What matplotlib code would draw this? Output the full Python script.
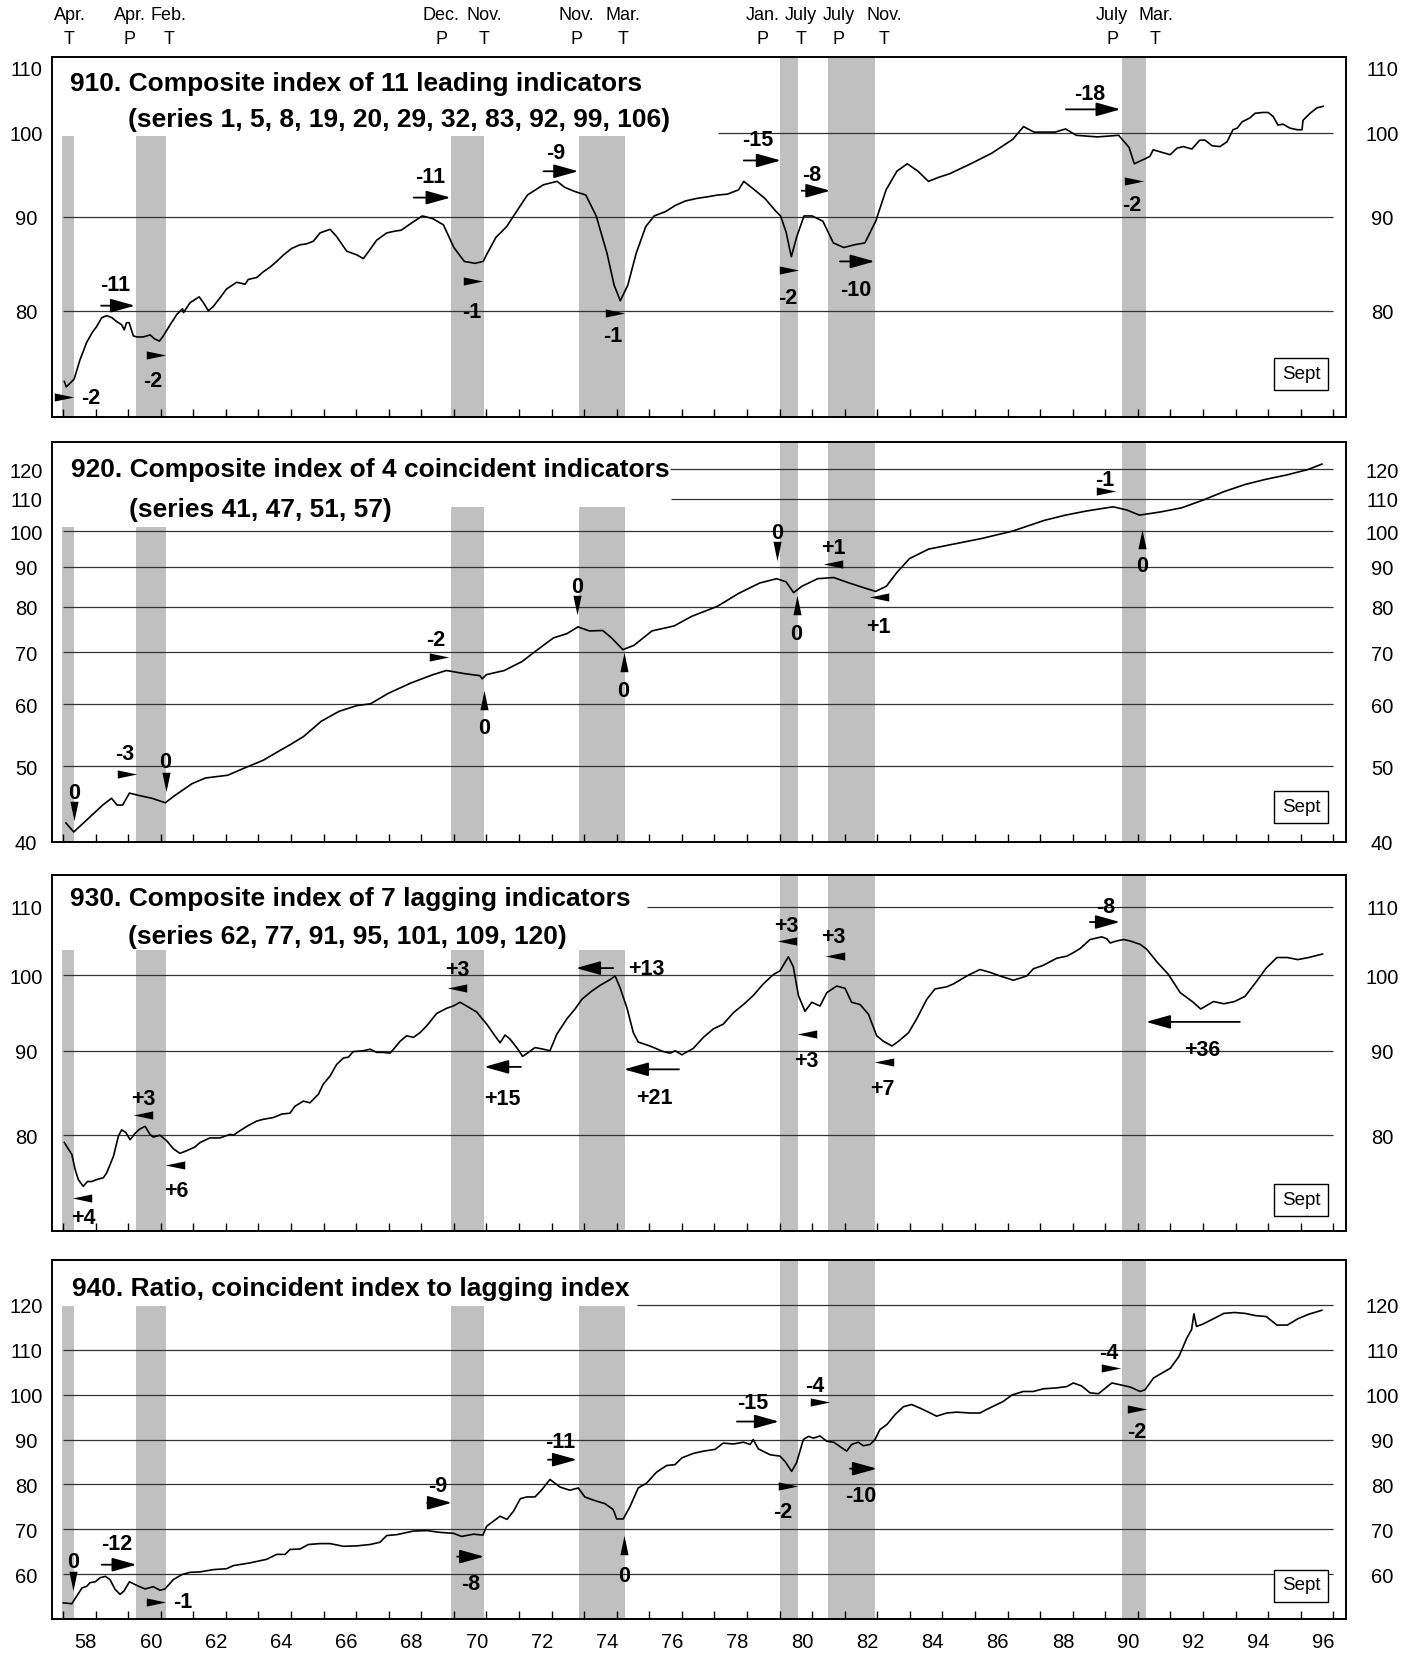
import matplotlib
matplotlib.use("Agg")
import matplotlib.pyplot as plt
from matplotlib import font_manager as fm
from matplotlib.ticker import NullLocator, FixedLocator
from matplotlib.transforms import blended_transform_factory, offset_copy


def pick_font(*names):
    for n in names:
        try:
            fm.findfont(n, fallback_to_default=False)
            return n
        except Exception:
            pass
    return "DejaVu Sans"


FONT = pick_font("Liberation Sans", "Arial", "Helvetica")
plt.rcParams["font.family"] = [FONT, "DejaVu Sans"]

# ---------------------------------------------------------------- data
# recession bars (decimal years)
rec_start = [1957.97, 1960.25, 1969.92, 1973.83, 1980.00, 1981.50, 1990.50]
rec_end = [1958.33, 1961.17, 1970.92, 1975.25, 1980.58, 1982.92, 1991.25]

top_months = ["Apr.", "Apr.", "Feb.", "Dec.", "Nov.", "Nov.", "Mar.", "Jan.", "July", "July", "Nov.", "July", "Mar."]
top_pt = ["T", "P", "T", "P", "T", "P", "T", "P", "T", "P", "T", "P", "T"]

year_labels = ["58", "60", "62", "64", "66", "68", "70", "72", "74", "76", "78",
               "80", "82", "84", "86", "88", "90", "92", "94", "96"]

# 910 leading index
lead_t = [1958.04, 1958.10, 1958.34, 1958.52, 1958.73, 1958.91, 1959.03, 1959.19, 1959.34, 1959.50,
          1959.65, 1959.80, 1959.88, 1959.95, 1960.03, 1960.16, 1960.27, 1960.47, 1960.67, 1960.82,
          1960.96, 1961.08, 1961.29, 1961.49, 1961.67, 1961.70, 1961.90, 1962.18, 1962.31, 1962.46,
          1962.61, 1962.82, 1963.02, 1963.33, 1963.59, 1963.69, 1963.95, 1964.15, 1964.36, 1964.56,
          1964.77, 1965.02, 1965.28, 1965.48, 1965.69, 1965.89, 1966.20, 1966.40, 1966.71, 1967.02,
          1967.22, 1967.43, 1967.63, 1967.94, 1968.19, 1968.38, 1968.70, 1969.03, 1969.35, 1969.68,
          1970.00, 1970.32, 1970.65, 1970.90, 1971.03, 1971.29, 1971.62, 1971.94, 1972.26, 1972.75,
          1973.17, 1973.40, 1973.72, 1974.05, 1974.37, 1974.70, 1974.92, 1975.11, 1975.34, 1975.60,
          1975.89, 1976.15, 1976.50, 1976.80, 1977.10, 1977.45, 1977.80, 1978.10, 1978.40, 1978.74,
          1978.90, 1979.23, 1979.55, 1979.87, 1980.03, 1980.20, 1980.36, 1980.52, 1980.75, 1981.00,
          1981.33, 1981.65, 1981.97, 1982.30, 1982.62, 1982.95, 1983.27, 1983.60, 1983.92, 1984.25,
          1984.57, 1984.90, 1985.22, 1985.87, 1986.52, 1987.16, 1987.49, 1987.81, 1988.46, 1988.78,
          1989.11, 1989.76, 1990.41, 1990.73, 1990.89, 1991.22, 1991.37, 1991.47, 1991.99, 1992.20,
          1992.39, 1992.66, 1992.90, 1993.06, 1993.28, 1993.52, 1993.74, 1993.92, 1994.05, 1994.20,
          1994.44, 1994.60, 1994.84, 1995.00, 1995.15, 1995.30, 1995.46, 1995.67, 1995.89, 1996.04,
          1996.07, 1996.29, 1996.50, 1996.69]
lead_v = [73.2, 72.7, 73.4, 75.2, 76.9, 77.9, 78.4, 79.3, 79.5, 79.3,
          78.9, 78.6, 78.1, 78.8, 78.8, 77.5, 77.4, 77.4, 77.6, 77.2,
          77.0, 77.5, 78.6, 79.6, 80.2, 79.8, 80.8, 81.4, 80.8, 80.0,
          80.4, 81.3, 82.2, 82.9, 82.7, 83.2, 83.4, 84.0, 84.5, 85.1,
          85.8, 86.5, 86.9, 87.0, 87.3, 88.2, 88.6, 87.8, 86.2, 85.8,
          85.4, 86.4, 87.4, 88.2, 88.4, 88.5, 89.3, 90.1, 89.8, 89.1,
          86.6, 85.1, 84.9, 85.1, 86.0, 87.7, 88.9, 90.7, 92.5, 93.7,
          94.1, 93.4, 92.9, 92.5, 90.1, 86.0, 82.6, 81.0, 82.6, 86.0,
          88.9, 90.1, 90.6, 91.3, 91.8, 92.1, 92.3, 92.5, 92.6, 93.1,
          94.1, 93.1, 92.1, 90.7, 90.1, 88.3, 85.6, 87.7, 90.1, 90.1,
          89.5, 87.1, 86.6, 86.9, 87.1, 89.5, 93.1, 95.3, 96.2, 95.3,
          94.1, 94.6, 95.0, 96.2, 97.5, 99.2, 100.8, 100.1, 100.1, 100.5,
          99.7, 99.5, 99.7, 98.2, 96.2, 96.8, 97.1, 97.9, 97.3, 98.1,
          98.3, 98.0, 99.1, 99.1, 98.4, 98.3, 98.9, 100.4, 100.6, 101.4,
          101.9, 102.5, 102.6, 102.6, 102.1, 101.0, 101.1, 100.6, 100.4, 100.4,
          101.6, 102.5, 103.2, 103.4]

# 920 coincident index
coin_t = [1958.09, 1958.33, 1958.60, 1958.94, 1959.22, 1959.49, 1959.66, 1959.83, 1960.04, 1960.31,
          1960.73, 1961.14, 1961.41, 1961.96, 1962.37, 1963.06, 1963.60, 1964.15, 1964.70, 1964.98,
          1965.39, 1965.93, 1966.48, 1967.03, 1967.44, 1967.99, 1968.68, 1969.36, 1969.77, 1970.32,
          1970.80, 1970.87, 1971.00, 1971.55, 1972.10, 1972.51, 1973.06, 1973.47, 1973.81, 1974.16,
          1974.57, 1974.84, 1975.19, 1975.53, 1976.08, 1976.76, 1977.31, 1978.09, 1978.74, 1979.39,
          1979.91, 1980.20, 1980.43, 1980.69, 1981.17, 1981.66, 1982.14, 1982.63, 1982.95, 1983.28,
          1983.60, 1983.99, 1984.57, 1985.22, 1986.19, 1987.16, 1988.13, 1988.78, 1989.43, 1990.24,
          1990.66, 1991.05, 1991.70, 1992.35, 1992.99, 1993.64, 1994.29, 1994.94, 1995.58, 1996.23,
          1996.65]
coin_v = [42.3, 41.2, 42.2, 43.5, 44.6, 45.5, 44.6, 44.6, 46.2, 45.9,
          45.5, 44.9, 45.8, 47.5, 48.3, 48.7, 49.8, 50.9, 52.5, 53.3,
          54.6, 57.1, 58.8, 59.8, 60.1, 62.0, 63.9, 65.5, 66.3, 65.7,
          65.3, 64.7, 65.5, 66.3, 68.1, 70.2, 73.0, 73.9, 75.4, 74.5,
          74.6, 73.0, 70.5, 71.4, 74.5, 75.6, 77.8, 80.1, 83.2, 85.8,
          86.9, 86.1, 83.4, 85.0, 86.9, 87.2, 85.8, 84.5, 83.7, 85.0,
          88.5, 92.2, 94.8, 96.0, 97.8, 100.0, 103.2, 104.8, 106.1, 107.4,
          106.4, 104.8, 105.8, 107.1, 109.5, 112.3, 114.7, 116.5, 118.0, 119.9,
          121.8]

# 930 lagging index
lag_t = [1958.04, 1958.16, 1958.27, 1958.37, 1958.47, 1958.62, 1958.75, 1958.88, 1959.03, 1959.24,
         1959.34, 1959.55, 1959.70, 1959.80, 1959.93, 1960.06, 1960.21, 1960.36, 1960.52, 1960.67,
         1960.77, 1960.98, 1961.18, 1961.39, 1961.59, 1961.80, 1962.05, 1962.21, 1962.51, 1962.82,
         1963.13, 1963.23, 1963.43, 1963.69, 1963.95, 1964.15, 1964.46, 1964.72, 1964.97, 1965.12,
         1965.38, 1965.58, 1965.84, 1965.99, 1966.20, 1966.40, 1966.61, 1966.76, 1966.91, 1967.22,
         1967.43, 1967.63, 1967.83, 1968.04, 1968.19, 1968.35, 1968.55, 1968.76, 1968.96, 1969.17,
         1969.47, 1969.78, 1969.98, 1970.19, 1970.39, 1970.70, 1971.01, 1971.26, 1971.42, 1971.57,
         1971.72, 1971.93, 1972.11, 1972.29, 1972.49, 1972.75, 1972.95, 1973.16, 1973.47, 1973.72,
         1973.93, 1974.23, 1974.49, 1974.80, 1974.95, 1975.10, 1975.31, 1975.51, 1975.66, 1976.02,
         1976.43, 1976.64, 1976.79, 1977.00, 1977.35, 1977.66, 1977.97, 1978.27, 1978.58, 1978.89,
         1979.19, 1979.50, 1979.81, 1980.01, 1980.27, 1980.42, 1980.58, 1980.78, 1980.99, 1981.24,
         1981.45, 1981.75, 1982.01, 1982.21, 1982.47, 1982.73, 1982.98, 1983.19, 1983.45, 1983.65,
         1983.96, 1984.21, 1984.52, 1984.77, 1985.13, 1985.34, 1985.75, 1986.15, 1986.46, 1986.77,
         1987.18, 1987.59, 1987.79, 1988.10, 1988.51, 1988.82, 1989.02, 1989.23, 1989.53, 1989.89,
         1990.05, 1990.15, 1990.35, 1990.56, 1990.76, 1991.07, 1991.27, 1991.58, 1991.94, 1992.30,
         1992.67, 1992.93, 1993.32, 1993.64, 1993.97, 1994.29, 1994.62, 1994.94, 1995.27, 1995.59,
         1995.91, 1996.24, 1996.67]
lag_v = [79.2, 78.5, 77.9, 76.3, 75.2, 74.5, 75.0, 75.0, 75.2, 75.4,
         75.9, 77.7, 79.9, 80.6, 80.3, 79.5, 80.2, 80.7, 81.0, 80.1,
         79.8, 80.0, 79.4, 78.5, 78.0, 78.3, 78.7, 79.2, 79.7, 79.7,
         80.1, 80.0, 80.5, 81.1, 81.6, 81.8, 82.0, 82.4, 82.5, 83.3,
         83.9, 83.7, 84.7, 85.9, 86.9, 88.3, 89.1, 89.2, 89.9, 90.0,
         90.2, 89.8, 89.8, 89.7, 90.4, 91.2, 91.9, 91.7, 92.3, 93.2,
         94.8, 95.5, 95.8, 96.3, 95.8, 95.0, 93.4, 91.9, 91.0, 92.0,
         91.5, 90.4, 89.3, 89.8, 90.4, 90.2, 90.0, 92.1, 94.1, 95.4,
         96.7, 97.8, 98.6, 99.4, 99.9, 98.3, 95.6, 92.3, 91.1, 90.6,
         89.9, 89.7, 90.0, 89.5, 90.3, 91.7, 92.8, 93.4, 94.9, 96.0,
         97.2, 98.8, 100.1, 100.6, 102.6, 101.2, 97.2, 95.1, 96.3, 95.8,
         97.6, 98.5, 98.2, 96.3, 96.0, 94.7, 91.9, 91.2, 90.6, 91.2,
         92.3, 94.1, 96.7, 98.1, 98.4, 98.8, 99.9, 100.8, 100.4, 99.9,
         99.3, 99.9, 100.9, 101.4, 102.4, 102.7, 103.2, 103.8, 105.1, 105.5,
         105.2, 104.6, 104.9, 105.1, 104.9, 104.4, 103.7, 101.9, 100.1, 97.6,
         96.4, 95.4, 96.4, 96.1, 96.4, 97.1, 99.0, 101.0, 102.5, 102.5,
         102.2, 102.5, 103.0]

# 940 ratio coincident / lagging
ratio_t = [1958.01, 1958.27, 1958.42, 1958.58, 1958.73, 1958.83, 1958.99, 1959.14, 1959.30, 1959.44,
           1959.60, 1959.75, 1959.87, 1960.04, 1960.26, 1960.52, 1960.77, 1960.98, 1961.13, 1961.39,
           1961.65, 1961.90, 1962.21, 1962.61, 1963.02, 1963.23, 1963.74, 1964.25, 1964.56, 1964.82,
           1964.97, 1965.28, 1965.53, 1965.89, 1966.20, 1966.61, 1967.02, 1967.43, 1967.73, 1967.94,
           1968.25, 1968.76, 1969.17, 1969.58, 1969.98, 1970.24, 1970.60, 1970.89, 1971.01, 1971.42,
           1971.63, 1971.83, 1972.04, 1972.24, 1972.49, 1972.70, 1972.95, 1973.26, 1973.56, 1973.82,
           1974.02, 1974.28, 1974.64, 1974.89, 1975.00, 1975.20, 1975.41, 1975.66, 1975.92, 1976.22,
           1976.53, 1976.79, 1977.00, 1977.35, 1977.66, 1978.02, 1978.27, 1978.58, 1978.89, 1979.10,
           1979.19, 1979.35, 1979.71, 1980.01, 1980.17, 1980.37, 1980.52, 1980.73, 1980.89, 1981.04,
           1981.24, 1981.45, 1981.66, 1981.86, 1982.06, 1982.21, 1982.42, 1982.57, 1982.78, 1982.93,
           1983.08, 1983.29, 1983.54, 1983.80, 1984.05, 1984.31, 1984.57, 1984.82, 1985.13, 1985.44,
           1985.85, 1986.15, 1986.36, 1986.67, 1986.87, 1987.13, 1987.48, 1987.79, 1988.10, 1988.51,
           1988.82, 1989.02, 1989.28, 1989.53, 1989.79, 1990.20, 1990.45, 1990.76, 1991.07, 1991.22,
           1991.48, 1992.00, 1992.26, 1992.51, 1992.65, 1992.72, 1992.80, 1992.99, 1993.32, 1993.64,
           1993.97, 1994.29, 1994.62, 1994.94, 1995.27, 1995.59, 1995.91, 1996.24, 1996.65]
ratio_v = [53.6, 53.4, 55.1, 56.9, 57.3, 58.1, 58.3, 59.2, 59.5, 58.8,
           56.6, 55.5, 56.2, 58.3, 57.5, 56.7, 57.2, 56.4, 56.7, 58.8,
           59.9, 60.4, 60.5, 61.0, 61.2, 61.9, 62.5, 63.3, 64.4, 64.4,
           65.5, 65.6, 66.6, 66.8, 66.8, 66.2, 66.3, 66.6, 67.1, 68.6,
           68.8, 69.6, 69.7, 69.3, 69.1, 68.4, 68.9, 68.7, 70.7, 72.9,
           72.2, 74.0, 76.8, 77.2, 77.2, 78.8, 81.1, 79.4, 78.7, 79.2,
           77.2, 76.5, 75.7, 74.4, 72.3, 72.3, 75.1, 79.2, 80.3, 82.7,
           84.2, 84.4, 85.9, 86.9, 87.4, 87.8, 89.2, 89.0, 89.4, 88.9,
           90.0, 87.9, 86.6, 86.3, 85.1, 82.9, 84.8, 90.0, 90.7, 90.3,
           90.8, 89.6, 89.4, 88.4, 87.4, 88.9, 89.4, 88.6, 88.9, 90.0,
           92.2, 93.3, 95.5, 97.3, 97.8, 97.0, 96.1, 95.2, 95.9, 96.1,
           95.9, 95.9, 96.7, 97.8, 98.5, 99.9, 100.7, 100.7, 101.3, 101.5,
           101.8, 102.6, 101.9, 100.4, 100.2, 102.6, 102.2, 101.7, 100.7, 101.1,
           103.7, 105.9, 108.5, 112.7, 114.5, 118.0, 115.2, 115.7, 116.9, 118.1,
           118.3, 118.1, 117.6, 117.4, 115.5, 115.5, 116.9, 117.9, 118.8]

# annotations: (label, year, value); triangles: (direction, year, value);
# arrows: (tail year, head year, value)
lead_ann_text = [("-11", 1959.60, 82.6), ("-2", 1958.85, 71.6), ("-2", 1960.77, 73.2),
                 ("-11", 1969.26, 94.6), ("-1", 1970.55, 79.8), ("-9", 1973.14, 97.5),
                 ("-1", 1974.89, 77.4), ("-15", 1979.32, 99.1), ("-2", 1980.26, 81.2),
                 ("-8", 1981.00, 94.8), ("-10", 1982.33, 82.0), ("-18", 1989.53, 104.9),
                 ("-2", 1990.82, 91.3)]
lead_ann_tri = [("r", 1958.04, 71.8), ("r", 1960.86, 75.7), ("r", 1970.58, 83.0),
                ("r", 1974.95, 79.8), ("r", 1980.30, 84.2), ("r", 1990.89, 94.2)]
lead_ann_arrow = [(1959.17, 1960.21, 80.5), (1968.77, 1969.90, 92.2), (1972.75, 1973.82, 95.3),
                  (1978.90, 1980.04, 96.6), (1980.68, 1981.56, 93.0), (1981.85, 1982.92, 85.1),
                  (1988.79, 1990.47, 103.0)]

coin_ann_text = [("0", 1958.33, 46.1), ("-3", 1959.89, 51.7), ("0", 1961.15, 50.6),
                 ("-2", 1969.45, 72.5), ("0", 1970.94, 55.9), ("0", 1973.79, 84.7),
                 ("0", 1975.21, 62.4), ("0", 1979.91, 99.4), ("0", 1980.52, 73.8),
                 ("+1", 1981.65, 95.1), ("+1", 1983.04, 75.3), ("-1", 1989.98, 116.2),
                 ("0", 1991.12, 90.2)]
coin_ann_tri = [("d", 1958.33, 43.8), ("r", 1959.95, 48.9), ("d", 1961.15, 47.8),
                ("r", 1969.54, 68.9), ("u", 1970.94, 60.8), ("d", 1973.79, 80.4),
                ("u", 1975.21, 67.9), ("d", 1979.91, 94.2), ("u", 1980.52, 80.4),
                ("l", 1981.65, 90.8), ("l", 1983.04, 82.4), ("r", 1990.02, 112.6),
                ("u", 1991.12, 97.8)]
coin_ann_arrow = []

lag_ann_text = [("+4", 1958.62, 71.2), ("+3", 1960.47, 84.1), ("+6", 1961.47, 74.0),
                ("+3", 1970.10, 100.6), ("+15", 1971.48, 84.1), ("+13", 1975.90, 100.8),
                ("+21", 1976.15, 84.2), ("+3", 1980.20, 107.1), ("+3", 1981.64, 105.4),
                ("+3", 1980.81, 88.7), ("+7", 1983.15, 85.3), ("-8", 1990.02, 109.9),
                ("+36", 1992.97, 90.0)]
lag_ann_tri = [("l", 1958.57, 73.3), ("l", 1960.47, 82.3), ("l", 1961.43, 76.7),
               ("l", 1970.10, 98.3), ("l", 1980.23, 104.9), ("l", 1981.70, 102.7),
               ("l", 1980.84, 92.1), ("l", 1983.21, 88.6)]
lag_ann_arrow = [(1972.06, 1970.93, 88.0), (1974.89, 1973.75, 101.0), (1976.91, 1975.22, 87.7),
                 (1989.53, 1990.45, 107.7), (1994.13, 1991.25, 93.7)]

ratio_ann_text = [("0", 1958.32, 62.5), ("-12", 1959.65, 66.6), ("-1", 1961.67, 53.7),
                  ("-9", 1969.51, 79.5), ("-8", 1970.53, 57.7), ("-11", 1973.26, 89.3),
                  ("0", 1975.22, 59.5), ("-15", 1979.19, 98.0), ("-2", 1980.10, 73.7),
                  ("-4", 1981.09, 101.8), ("-10", 1982.50, 77.3), ("-4", 1990.12, 109.1),
                  ("-2", 1990.98, 91.5)]
ratio_ann_tri = [("d", 1958.32, 58.4), ("r", 1960.86, 53.8), ("u", 1975.22, 66.4),
                 ("r", 1980.26, 79.7), ("r", 1981.24, 98.4), ("r", 1990.18, 106.0),
                 ("r", 1990.98, 96.9)]
ratio_ann_arrow = [(1959.19, 1960.26, 62.1), (1969.18, 1969.94, 75.9), (1970.10, 1970.93, 63.9),
                   (1972.89, 1973.78, 85.5), (1978.69, 1979.98, 94.0), (1982.16, 1982.99, 83.5)]

titles = [
    ["910. Composite index of 11 leading indicators",
     "(series 1, 5, 8, 19, 20, 29, 32, 83, 92, 99, 106)"],
    ["920. Composite index of 4 coincident indicators", "(series 41, 47, 51, 57)"],
    ["930. Composite index of 7 lagging indicators",
     "(series 62, 77, 91, 95, 101, 109, 120)"],
    ["940. Ratio, coincident index to lagging index"],
]

ylabels = [[110, 100, 90, 80],
           [120, 110, 100, 90, 80, 70, 60, 50, 40],
           [110, 100, 90, 80],
           [120, 110, 100, 90, 80, 70, 60]]
grid_vals = [[100, 90, 80],
             [120, 110, 100, 90, 80, 70, 60, 50],
             [110, 100, 90, 80],
             [120, 110, 100, 90, 80, 70, 60]]
grid_start = [[1978.10, 1958.0, 1958.0],
              [1976.64, 1976.67, 1958.0, 1958.0, 1958.0, 1958.0, 1958.0, 1958.0],
              [1975.93, 1958.0, 1958.0, 1958.0],
              [1975.62, 1958.0, 1958.0, 1958.0, 1958.0, 1958.0, 1958.0]]

# ---------------------------------------------------------------- layout
W, H = 1415, 1655
AX_L, AX_R = 52, 1346
XMIN, XMAX = 1957.662, 1997.39
panel_px = [(57, 417), (442, 842), (875, 1231), (1260, 1619)]
ylims = [(70, 110), (40, 130), (70, 115), (50, 130)]
yscales = ["log", "log", "log", "linear"]
bar_tops = [[0.78, 0.78, 0.78, 0.78, 1, 1, 1],
            [0.7875, 0.7875, 0.8375, 0.8375, 1, 1, 1],
            [0.789, 0.789, 0.789, 0.789, 1, 1, 1],
            [0.872, 0.872, 0.872, 0.872, 1, 1, 1]]
title_pos = [[(70, 91.5), (128.3, 127.0)],
             [(71, 477.0), (129, 517.0)],
             [(70, 906.0), (128.3, 943.5)],
             [(72, 1296.0)]]
sept_pos = [0.119, 0.0875, 0.087, 0.092]
top_label_x = [1958.20, 1960.05, 1961.25, 1969.61, 1970.94, 1973.75, 1975.18,
               1979.49, 1980.65, 1981.82, 1983.21, 1990.21, 1991.54]

series_t = [lead_t, coin_t, lag_t, ratio_t]
series_v = [lead_v, coin_v, lag_v, ratio_v]
ann_text = [lead_ann_text, coin_ann_text, lag_ann_text, ratio_ann_text]
ann_tri = [lead_ann_tri, coin_ann_tri, lag_ann_tri, ratio_ann_tri]
ann_arrow = [lead_ann_arrow, coin_ann_arrow, lag_ann_arrow, ratio_ann_arrow]

BAR_C = "#c0c0c0"
GRID_C = "#333333"

TRI = {
    "r": [(-1, -0.42), (1, 0), (-1, 0.42), (-1, -0.42)],
    "l": [(1, -0.42), (-1, 0), (1, 0.42), (1, -0.42)],
    "d": [(-0.42, 1), (0.42, 1), (0, -1), (-0.42, 1)],
    "u": [(-0.42, -1), (0.42, -1), (0, 1), (-0.42, -1)],
}

fig = plt.figure(figsize=(W / 100, H / 100), dpi=100)


def fx(x):
    return x / W


def fy(y):
    return 1 - y / H


axes = []
for i, (top, bot) in enumerate(panel_px):
    ax = fig.add_axes([fx(AX_L), fy(bot), (AX_R - AX_L) / W, (bot - top) / H])
    axes.append(ax)
    ax.set_yscale(yscales[i])
    ax.set_xlim(XMIN, XMAX)
    ax.set_ylim(*ylims[i])
    ax.yaxis.set_major_locator(NullLocator())
    ax.yaxis.set_minor_locator(NullLocator())
    ax.xaxis.set_major_locator(FixedLocator(list(range(1958, 1998))))
    ax.xaxis.set_minor_locator(NullLocator())
    ax.tick_params(axis="x", which="major", direction="in", length=5.5, width=1.0,
                   bottom=True, top=False, labelbottom=False, color="black")
    ax.tick_params(axis="y", which="both", left=False, right=False,
                   labelleft=False, labelright=False)
    for sp in ax.spines.values():
        sp.set_linewidth(1.4)
        sp.set_color("black")

    # recession shading
    for s, e, tp in zip(rec_start, rec_end, bar_tops[i]):
        ax.axvspan(s, e, ymin=0, ymax=tp, color=BAR_C, lw=0, zorder=0)

    # grid lines
    for gv, gs in zip(grid_vals[i], grid_start[i]):
        ax.hlines(gv, gs, 1997.0, color=GRID_C, lw=0.9, zorder=1)

    # series
    ax.plot(series_t[i], series_v[i], color="black", lw=1.2, zorder=3,
            solid_joinstyle="round")

    # y labels on both sides
    tr = blended_transform_factory(fig.transFigure, ax.transData)
    for v in ylabels[i]:
        dy = -3
        if i == 0 and v == ylims[i][1]:
            dy = -13
        otr = offset_copy(tr, fig=fig, x=0, y=dy, units="dots")
        for xpix in (26, 1382):
            ax.text(fx(xpix), v, str(v), transform=otr, ha="center", va="center",
                    fontsize=14.5, clip_on=False)

    # titles
    for txt, (tx, ty) in zip(titles[i], title_pos[i]):
        fig.text(fx(tx), fy(ty), txt, ha="left", va="baseline", fontsize=19,
                 fontweight="bold")

    # Sept box
    ax.text(0.9652, sept_pos[i], "Sept", transform=ax.transAxes, ha="center", va="center",
            fontsize=13.5, zorder=5,
            bbox=dict(boxstyle="square,pad=0.4", fc="white", ec="black", lw=1.0))

    # annotations
    for lab, t, v in ann_text[i]:
        ax.text(t, v, lab, ha="center", va="center", fontsize=15.5, fontweight="bold",
                zorder=6)
    for d, t, v in ann_tri[i]:
        ax.plot([t], [v], linestyle="none", marker=TRI[d], markersize=14,
                color="black", markeredgewidth=0, zorder=6)
    for t0, t1, v in ann_arrow[i]:
        ax.annotate("", xy=(t1, v), xytext=(t0, v),
                    arrowprops=dict(arrowstyle="-|>,head_length=0.75,head_width=0.21",
                                    lw=1.3, color="black", shrinkA=0, shrinkB=0,
                                    mutation_scale=20), zorder=6)

# top P / T labels
ttr = blended_transform_factory(axes[0].transData, fig.transFigure)
for x, m, pt in zip(top_label_x, top_months, top_pt):
    axes[0].text(x, fy(16), m, transform=ttr, ha="center", va="center", fontsize=13,
                 clip_on=False)
    axes[0].text(x, fy(39), pt, transform=ttr, ha="center", va="center", fontsize=13,
                 clip_on=False)

# year labels
btr = blended_transform_factory(axes[3].transData, fig.transFigure)
for lab in year_labels:
    yr = 1900 + int(lab)
    axes[3].text(yr + 0.7, fy(1643), lab, transform=btr, ha="center", va="center",
                 fontsize=14.5, clip_on=False)

fig.savefig("out.png", dpi=100)
